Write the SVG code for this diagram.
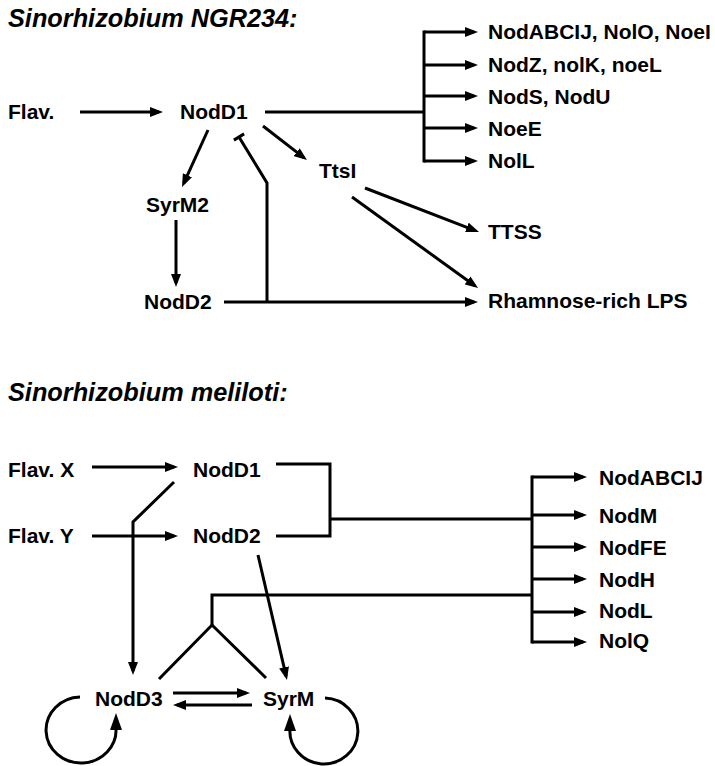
<svg xmlns="http://www.w3.org/2000/svg" width="715" height="766" viewBox="0 0 715 766">
<style>
.t{font-family:"Liberation Sans",Arial,sans-serif;font-weight:bold;font-size:21px;fill:#000}
.h{font-family:"Liberation Sans",Arial,sans-serif;font-weight:bold;font-style:italic;font-size:25.3px;fill:#000}
.c{fill:none;stroke:#000;stroke-width:3}
.a{marker-end:url(#ah)}
.hd{fill:#000;stroke:none}
</style>
<defs>
<marker id="ah" markerUnits="userSpaceOnUse" markerWidth="13" markerHeight="10" refX="9" refY="5" orient="auto">
<path d="M0,0 L13,5 L0,10 z" fill="#000"/>
</marker>
</defs>
<rect width="715" height="766" fill="#fff"/>
<text class="h" x="8" y="27">Sinorhizobium NGR234:</text>
<text class="h" x="8" y="401">Sinorhizobium meliloti:</text>
<g id="connectors">
<path class="c a" d="M80,112 H159"/>
<path class="c" d="M265,112 H424"/>
<path class="c" d="M424,30.5 V162.5"/>
<path class="c a" d="M424,32 H474"/>
<path class="c a" d="M424,65 H474"/>
<path class="c a" d="M424,96 H474"/>
<path class="c a" d="M424,128 H474"/>
<path class="c a" d="M424,161 H474"/>
<path class="c a" d="M208,130 L183.7,183.4"/>
<path class="c" d="M267,302 V183 L239,137"/>
<path class="c" d="M233.9,140.1 L244.1,133.9"/>
<path class="c a" d="M263,126 L303.8,157.6"/>
<path class="c a" d="M176,220 V283"/>
<path class="c a" d="M224,302 H474"/>
<path class="c a" d="M365,188 L475.3,230.6"/>
<path class="c a" d="M352,197 L474.8,285.7"/>
<path class="c a" d="M92,467 H174"/>
<path class="c a" d="M92,536 H174"/>
<path class="c" d="M276,464 H330 V536 H276"/>
<path class="c" d="M330,519 H532"/>
<path class="c" d="M532,475.5 V643.5"/>
<path class="c a" d="M532,477 H583"/>
<path class="c a" d="M532,515 H583"/>
<path class="c a" d="M532,547 H583"/>
<path class="c a" d="M532,579 H583"/>
<path class="c a" d="M532,612 H583"/>
<path class="c a" d="M532,642 H583"/>
<path class="c a" d="M174,482 L133,522 V671"/>
<path class="c a" d="M258,555 L286.1,676.1"/>
<path class="c" d="M532,595 H212 V625"/>
<path class="c" d="M159,679 L212,625 L266,678"/>
<path class="c a" d="M173,693 H246"/>
<path class="c a" d="M252,705 H177"/>
<path class="c" d="M80,697 A35,33 0 1 0 116,728"/>
<path class="hd" d="M116,713 L122,730 L110,730 z"/>
<path class="c" d="M325,698 A34,33 0 1 1 290,728"/>
<path class="hd" d="M290,714 L296,731 L284,731 z"/>
</g>
<g id="n-flav"><text class="t" x="8" y="119">Flav.</text></g>
<g id="n-nodd1a"><text class="t" x="180" y="119">NodD1</text></g>
<g id="n-syrm2"><text class="t" x="146" y="212">SyrM2</text></g>
<g id="n-nodd2a"><text class="t" x="144" y="309">NodD2</text></g>
<g id="n-ttsi"><text class="t" x="319" y="178">TtsI</text></g>
<g id="n-nodabcij1"><text class="t" x="488" y="39">NodABCIJ, NolO, NoeI</text></g>
<g id="n-nodz"><text class="t" x="488" y="72">NodZ, nolK, noeL</text></g>
<g id="n-nods"><text class="t" x="488" y="104">NodS, NodU</text></g>
<g id="n-noee"><text class="t" x="488" y="136">NoeE</text></g>
<g id="n-noll"><text class="t" x="488" y="168">NolL</text></g>
<g id="n-ttss"><text class="t" x="488" y="239">TTSS</text></g>
<g id="n-lps"><text class="t" x="488" y="308">Rhamnose-rich LPS</text></g>
<g id="n-flavx"><text class="t" x="8" y="477">Flav. X</text></g>
<g id="n-flavy"><text class="t" x="8" y="543">Flav. Y</text></g>
<g id="n-nodd1b"><text class="t" x="193" y="477">NodD1</text></g>
<g id="n-nodd2b"><text class="t" x="193" y="543">NodD2</text></g>
<g id="n-nodd3"><text class="t" x="95" y="706">NodD3</text></g>
<g id="n-syrm"><text class="t" x="263" y="706">SyrM</text></g>
<g id="n-nodabcij2"><text class="t" x="599" y="485">NodABCIJ</text></g>
<g id="n-nodm"><text class="t" x="599" y="523">NodM</text></g>
<g id="n-nodfe"><text class="t" x="599" y="555">NodFE</text></g>
<g id="n-nodh"><text class="t" x="599" y="587">NodH</text></g>
<g id="n-nodl"><text class="t" x="599" y="618">NodL</text></g>
<g id="n-nolq"><text class="t" x="599" y="648">NolQ</text></g>
</svg>
